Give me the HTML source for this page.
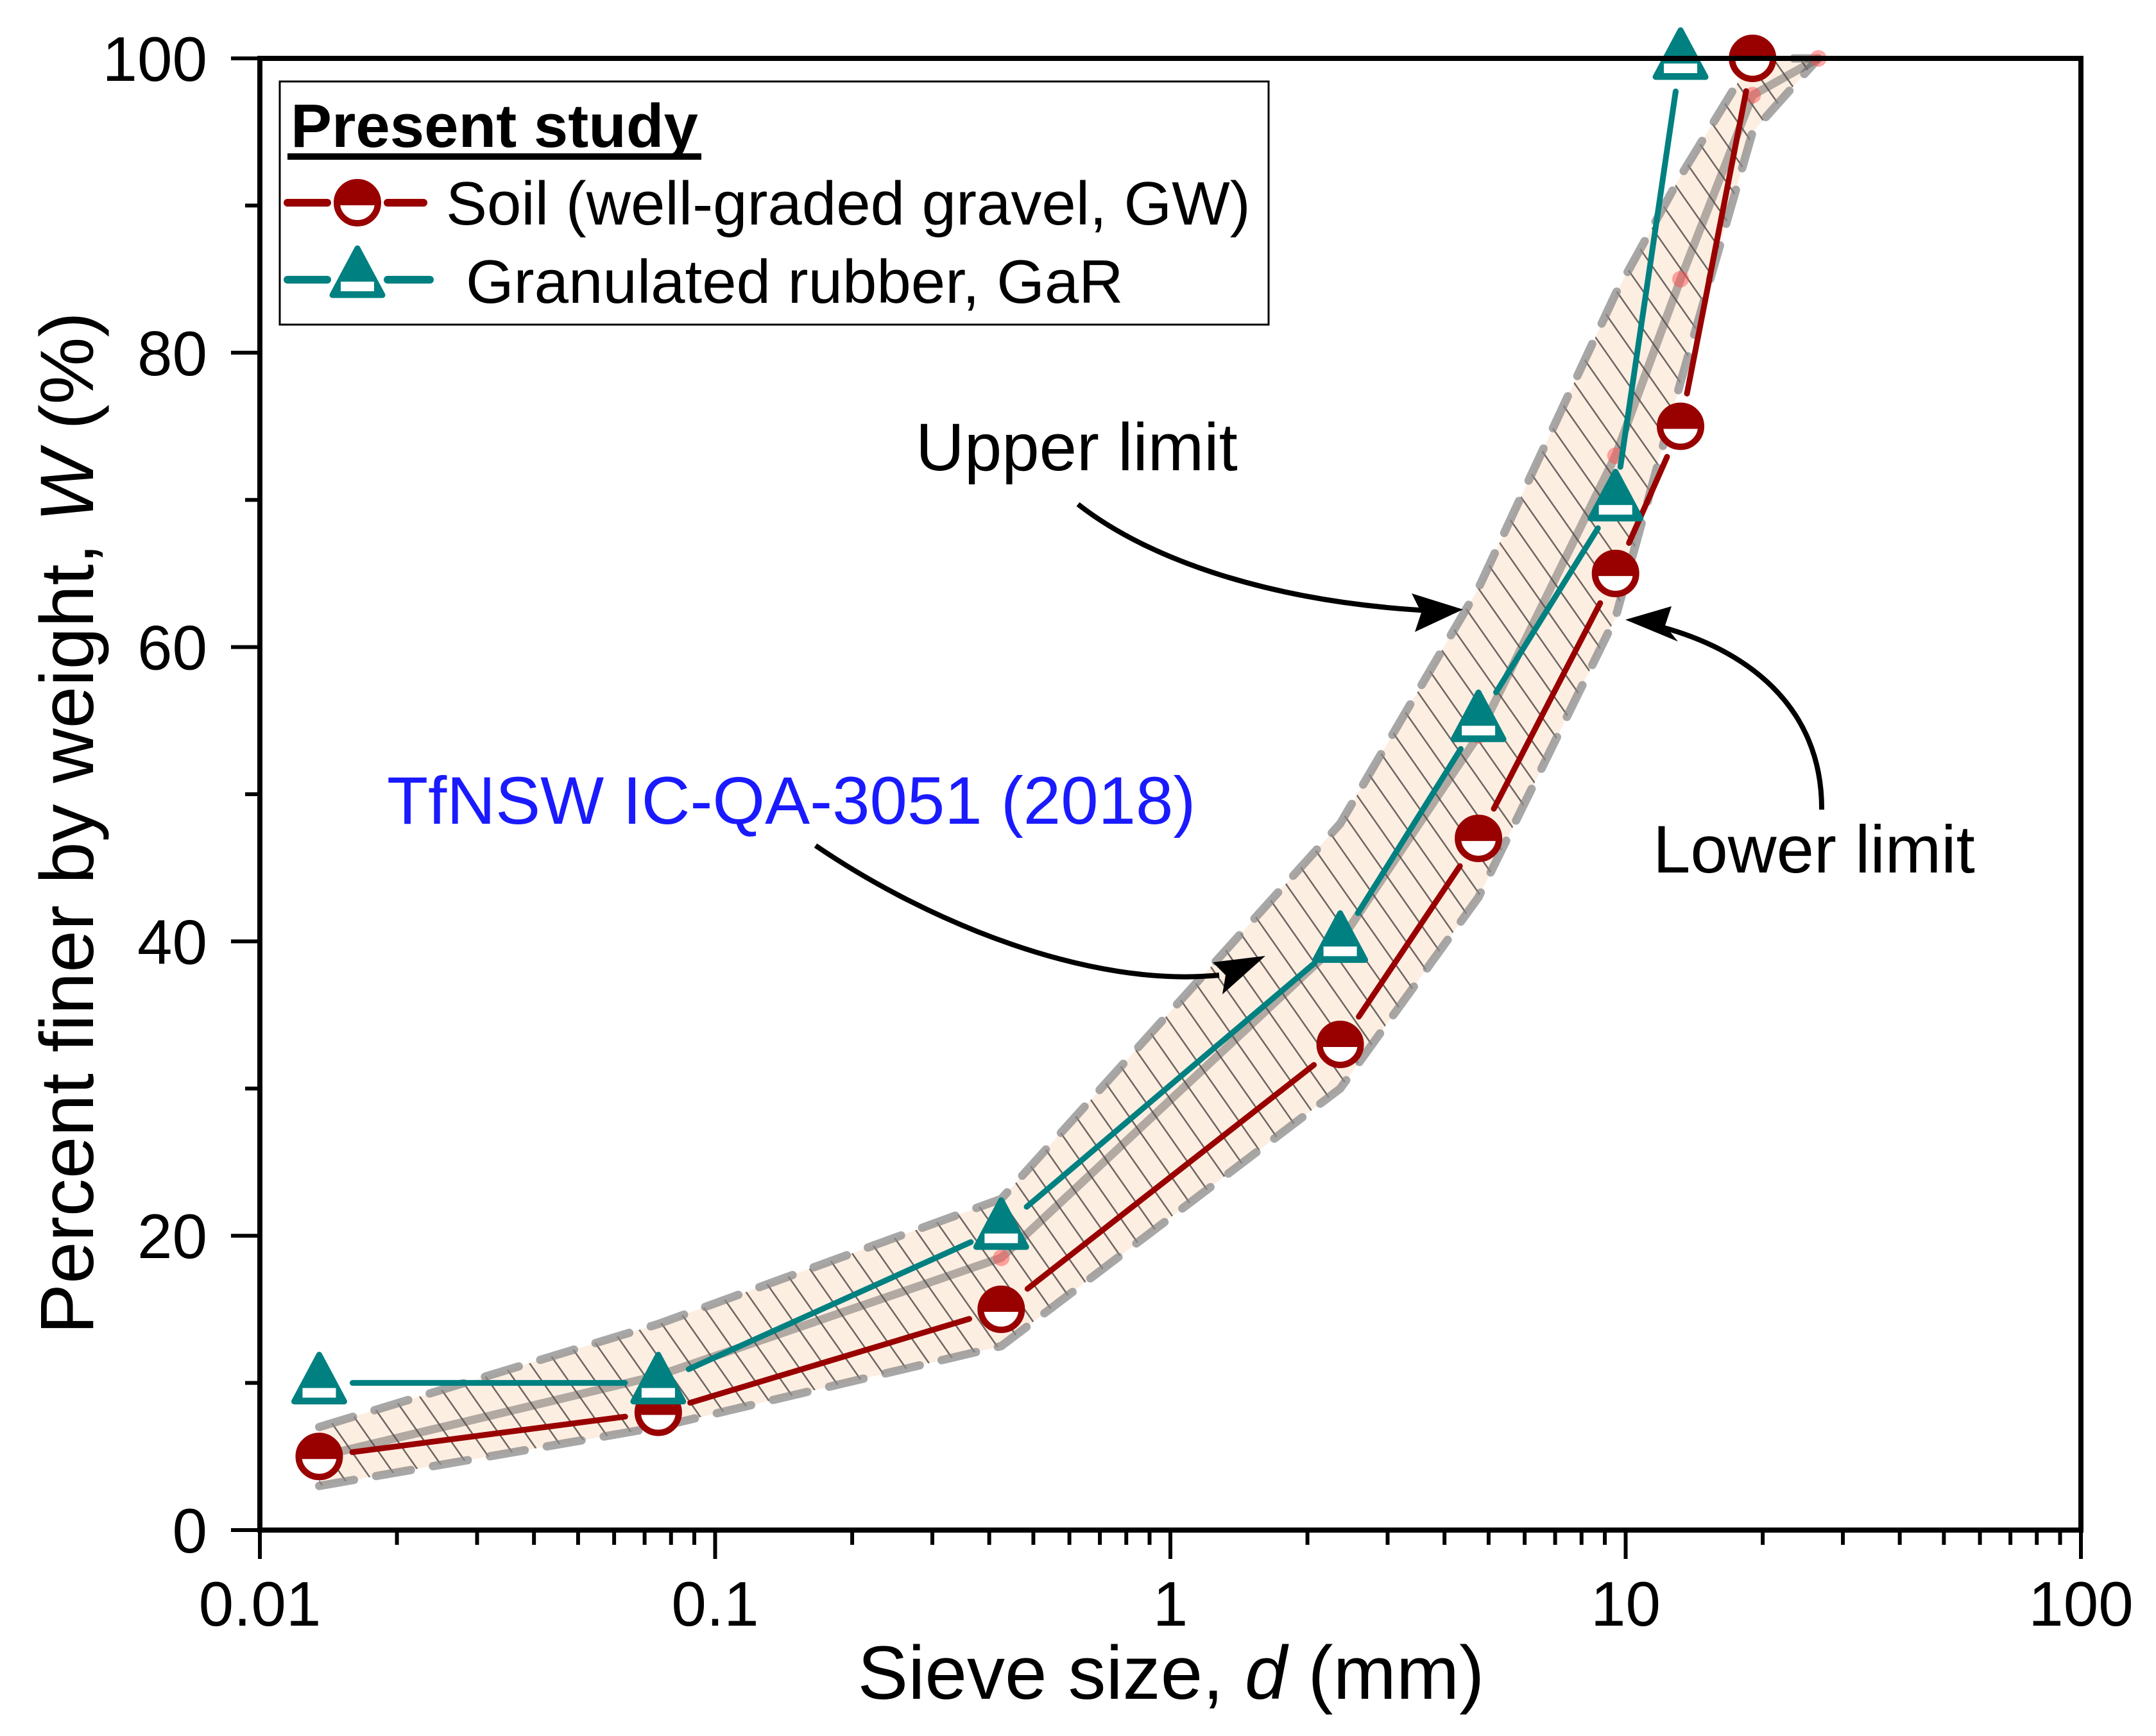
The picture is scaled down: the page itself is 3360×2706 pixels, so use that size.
<!DOCTYPE html>
<html><head><meta charset="utf-8"><style>
html,body{margin:0;padding:0;background:#fff}
svg{display:block;font-family:"Liberation Sans",Arial,sans-serif}
</style></head><body>
<svg id="chart" width="3360" height="2706" viewBox="0 0 3360 2706" xmlns="http://www.w3.org/2000/svg">
<defs>
<pattern id="hatch" patternUnits="userSpaceOnUse" width="34" height="34" patternTransform="rotate(-35)">
<rect width="34" height="34" fill="#fdeee2"/>
<line x1="0" y1="0" x2="0" y2="34" stroke="#6e6560" stroke-width="5"/>
</pattern>
</defs>
<g id="band"></g>
<g id="series"></g>
<g id="axes"></g>
<g>
<rect x="436" y="127" width="1541" height="379" fill="#fff" stroke="#000" stroke-width="3"/>
<text x="453" y="229" font-size="96" font-weight="bold">Present study</text>
<rect x="448" y="239" width="645" height="10" fill="#000"/>
<line x1="448" y1="316" x2="510" y2="316" stroke="#990000" stroke-width="12" stroke-linecap="round"/>
<line x1="604" y1="316" x2="660" y2="316" stroke="#990000" stroke-width="12" stroke-linecap="round"/>
<g id="legsoil"></g>
<text x="695" y="350" font-size="96">Soil (well-graded gravel, GW)</text>
<line x1="448" y1="436" x2="510" y2="436" stroke="#008080" stroke-width="12" stroke-linecap="round"/>
<line x1="604" y1="436" x2="670" y2="436" stroke="#008080" stroke-width="12" stroke-linecap="round"/>
<g id="legrub"></g>
<text x="726" y="472" font-size="96">Granulated rubber, GaR</text>
</g>
<g>
<text x="1427" y="733" font-size="105">Upper limit</text>
<text x="2576" y="1360" font-size="105">Lower limit</text>
<text x="603" y="1284" font-size="105" fill="#1a1aff">TfNSW IC-QA-3051 (2018)</text>
<path d="M1680,786 C1800,880 2000,940 2230,952" fill="none" stroke="#000" stroke-width="8"/>
<polygon points="2280,950 2200,925 2215,955 2205,985" fill="#000"/>
<path d="M2839,1262 C2840,1100 2720,1010 2580,975" fill="none" stroke="#000" stroke-width="8"/>
<polygon points="2533,966 2605,945 2595,975 2615,1000" fill="#000"/>
<path d="M1271,1318 C1450,1440 1700,1540 1900,1520" fill="none" stroke="#000" stroke-width="8"/>
<polygon points="1972,1490 1905,1550 1910,1520 1890,1500" fill="#000"/>
</g>
<text x="1825" y="2648" font-size="118" text-anchor="middle">Sieve size, <tspan font-style="italic">d</tspan> (mm)</text>
<text transform="translate(145,1283) rotate(-90)" font-size="118" text-anchor="middle">Percent finer by weight, <tspan font-style="italic">W</tspan> (%)</text>
</svg>
<script>
// data
const sieveSizes = [0.0135, 0.075, 0.425, 2.36, 4.75, 9.5, 13.2, 19];
const soilPassing = [5, 8, 15, 33, 47, 65, 75, 100];
const rubberSizes = [0.0135, 0.075, 0.425, 2.36, 4.75, 9.5, 13.2];
const rubberPassing = [10, 10, 20.5, 40, 55, 70, 100];
const envSizes = [0.0135, 0.075, 0.425, 2.36, 4.75, 9.5, 13.2, 19, 26.5];
const envLower = [3, 7, 12.5, 30, 43, 62, 78, 95, 100];
const envUpper = [7, 14, 22.5, 48, 64, 84, 92, 100, 100];
const envMid = [5, 10.5, 18.5, 40, 54, 73, 85, 97.5, 100];
const yTicks = [0, 20, 40, 60, 80, 100];
const xTickLabels = ["0.01", "0.1", "1", "10", "100"];

const L=405,R=3243,T=91,B=2385;
const NS="http://www.w3.org/2000/svg";
function xs(v){return L+(Math.log10(v)+2)/4*(R-L);}
function ys(v){return B-v/100*(B-T);}
function mk(tag,attrs,parent){const e=document.createElementNS(NS,tag);for(const k in attrs)e.setAttribute(k,attrs[k]);parent.appendChild(e);return e;}

// envelope
const band=document.getElementById('band');
let d='M'+envSizes.map((s,i)=>xs(s)+','+ys(envUpper[i])).join(' L');
for(let i=envSizes.length-1;i>=0;i--) d+=' L'+xs(envSizes[i])+','+ys(envLower[i]);
const poly=mk('path',{d:d+'Z',fill:'url(#hatch)'},band);


[[envUpper,'upper-limit-line'],[envLower,'lower-limit-line']].forEach(([arr,nm])=>{
 const p=mk('polyline',{points:envSizes.map((s,i)=>xs(s)+','+ys(arr[i])).join(' '),fill:'none',stroke:'#8a8a8a','stroke-opacity':'0.75','stroke-width':'13','stroke-dasharray':'55,35','stroke-linecap':'round'},band);
 
 
});
const mid=mk('polyline',{points:envSizes.map((s,i)=>xs(s)+','+ys(envMid[i])).join(' '),fill:'none',stroke:'#555','stroke-opacity':'0.45','stroke-width':'13'},band);


envSizes.forEach((s,i)=>{if(i>=2&&i!==3){const c=mk('circle',{cx:xs(s),cy:ys(envMid[i]),r:13,fill:'#ff5050','fill-opacity':'0.5'},band);

}});

// series
const sg=document.getElementById('series');
function segLines(xsArr,ysArr,color,gap,nm){
 for(let i=0;i<xsArr.length-1;i++){
  const x1=xs(xsArr[i]),y1=ys(ysArr[i]),x2=xs(xsArr[i+1]),y2=ys(ysArr[i+1]);
  const len=Math.hypot(x2-x1,y2-y1);if(len<2*gap)continue;
  const ux=(x2-x1)/len,uy=(y2-y1)/len;
  const l=mk('line',{x1:x1+ux*gap,y1:y1+uy*gap,x2:x2-ux*gap,y2:y2-uy*gap,stroke:color,'stroke-width':'9','stroke-linecap':'round'},sg);
  
  
 }
}
segLines(sieveSizes,soilPassing,'#990000',52,'soil-line-segment');
segLines(rubberSizes,rubberPassing,'#008080',52,'rubber-line-segment');
function circ(cx,cy,parent){
 const g=mk('g',{},parent);
 mk('circle',{cx:cx,cy:cy,r:32,fill:'#fff',stroke:'#990000','stroke-width':'10'},g);
 mk('path',{d:`M${cx-32},${cy+4} A32,32 0 0 1 ${cx+32},${cy+4} Z`,fill:'#990000'},g);
 return g;
}
function tri(cx,cy,parent){
 const g=mk('g',{},parent);
 mk('polygon',{points:`${cx},${cy-44} ${cx+39},${cy+29} ${cx-39},${cy+29}`,fill:'#008080',stroke:'#008080','stroke-width':'9','stroke-linejoin':'round'},g);
 mk('rect',{x:cx-26,y:cy+8,width:52,height:15,fill:'#fff'},g);
 return g;
}
sieveSizes.forEach((s,i)=>{const g=circ(xs(s),ys(soilPassing[i]),sg);

});
rubberSizes.forEach((s,i)=>{const g=tri(xs(s),ys(rubberPassing[i]),sg);

});
circ(557,316,document.getElementById('legsoil'));
tri(557,431,document.getElementById('legrub'));

// axes
const ax=document.getElementById('axes');
const frame=mk('rect',{x:L,y:T,width:R-L,height:B-T,fill:'none',stroke:'#000','stroke-width':'8'},ax);


yTicks.forEach(v=>{
 const t=mk('line',{x1:L-45,y1:ys(v),x2:L,y2:ys(v),stroke:'#000','stroke-width':'6'},ax);
 
 
 const tx=mk('text',{x:L-82,y:ys(v)+35,'font-size':'98','text-anchor':'end'},ax);tx.textContent=v;
 
 
});
for(let v=10;v<100;v+=20){const t=mk('line',{x1:L-23,y1:ys(v),x2:L,y2:ys(v),stroke:'#000','stroke-width':'6'},ax);

}
xTickLabels.forEach((lab,i)=>{
 const v=Math.pow(10,i-2);
 const t=mk('line',{x1:xs(v),y1:B,x2:xs(v),y2:B+45,stroke:'#000','stroke-width':'6'},ax);
 
 
 const tx=mk('text',{x:xs(v),y:2534,'font-size':'98','text-anchor':'middle'},ax);tx.textContent=lab;
 
 
 if(i<4)for(let m=2;m<10;m++){const mt=mk('line',{x1:xs(v*m),y1:B,x2:xs(v*m),y2:B+23,stroke:'#000','stroke-width':'6'},ax);
 
 }
});
</script>
</body></html>
